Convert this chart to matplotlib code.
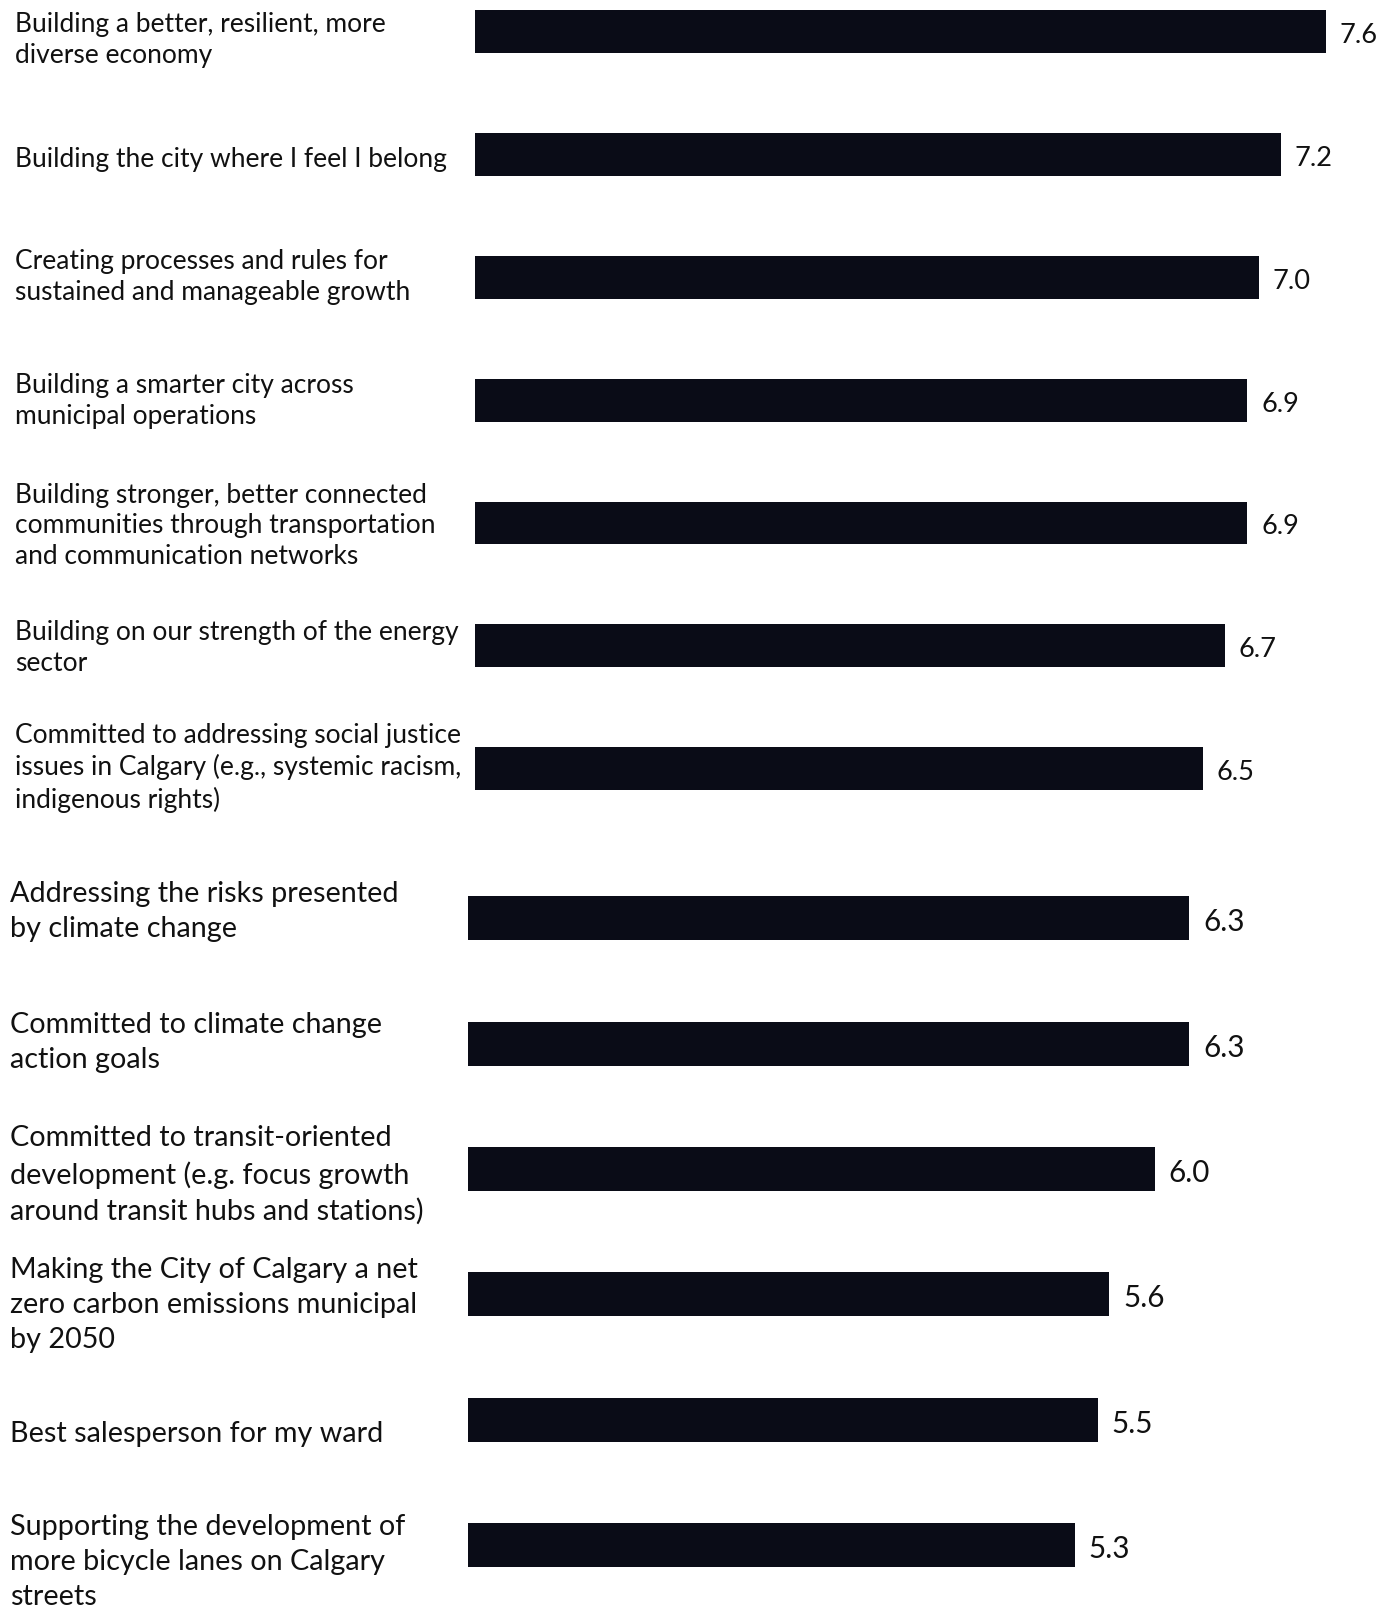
import matplotlib
matplotlib.use('Agg')
import matplotlib.pyplot as plt
import matplotlib.transforms as mtransforms

plt.rcParams['font.family'] = ['Lato', 'DejaVu Sans']

# upper panel
top_labels = [
    "Building a better, resilient, more\ndiverse economy",
    "Building the city where I feel I belong",
    "Creating processes and rules for\nsustained and manageable growth",
    "Building a smarter city across\nmunicipal operations",
    "Building stronger, better connected\ncommunities through transportation\nand communication networks",
    "Building on our strength of the energy\nsector",
    "Committed to addressing social justice\nissues in Calgary (e.g., systemic racism,\nindigenous rights)",
]
top_values = [7.6, 7.2, 7.0, 6.9, 6.9, 6.7, 6.5]

# lower panel
bot_labels = [
    "Addressing the risks presented\nby climate change",
    "Committed to climate change\naction goals",
    "Committed to transit-oriented\ndevelopment (e.g. focus growth\naround transit hubs and stations)",
    "Making the City of Calgary a net\nzero carbon emissions municipal\nby 2050",
    "Best salesperson for my ward",
    "Supporting the development of\nmore bicycle lanes on Calgary\nstreets",
]
bot_values = [6.3, 6.3, 6.0, 5.6, 5.5, 5.3]

# label nudges in px (down = positive), as in the scanned original
top_nudge = [8, 5, 0, 1, 3, 2, -1]
bot_nudge = [-7, -1, 6, 11, 14, 17]

BAR = '#0a0c17'
W, H = 1390, 1611
fig = plt.figure(figsize=(W/100, H/100), dpi=100)
fig.patch.set_facecolor('white')

def panel(labels, values, nudges, left_px, unit_px, y0_px, step_px, top_px, bot_px,
          label_x_px, fs_lab, fs_val, ls):
    ax = fig.add_axes([left_px/W, 1 - bot_px/H, (W - left_px)/W, (bot_px - top_px)/H])
    ys = list(range(len(values)))
    ax.barh(ys, values, height=0.35, color=BAR)
    ax.set_xlim(0, (W - left_px)/unit_px)
    ax.set_ylim((bot_px - y0_px)/step_px, (top_px - y0_px)/step_px)
    ax.axis('off')
    trans = mtransforms.blended_transform_factory(fig.transFigure, ax.transData)
    vtrans = mtransforms.offset_copy(ax.transData, fig=fig, y=-4, units='dots')
    for y, lab, v, dy in zip(ys, labels, values, nudges):
        lt = mtransforms.offset_copy(trans, fig=fig, y=-dy, units='dots')
        ax.text(label_x_px/W, y, lab, transform=lt, ha='left', va='center',
                fontsize=fs_lab, color='#111111', linespacing=ls)
        ax.text(v + 14/unit_px, y, f'{v:.1f}', transform=vtrans, ha='left', va='center',
                fontsize=fs_val, color='#111111')
    return ax

panel(top_labels, top_values, top_nudge, 474.6, 112.0, 31.8, 122.8, 0, 830, 15.4, 19, 19.5, 1.3)
panel(bot_labels, bot_values, bot_nudge, 468.4, 114.4, 918.4, 125.3, 840, 1611, 10.3, 20.7, 21.3, 1.42)

fig.savefig('out.png', dpi=100)
